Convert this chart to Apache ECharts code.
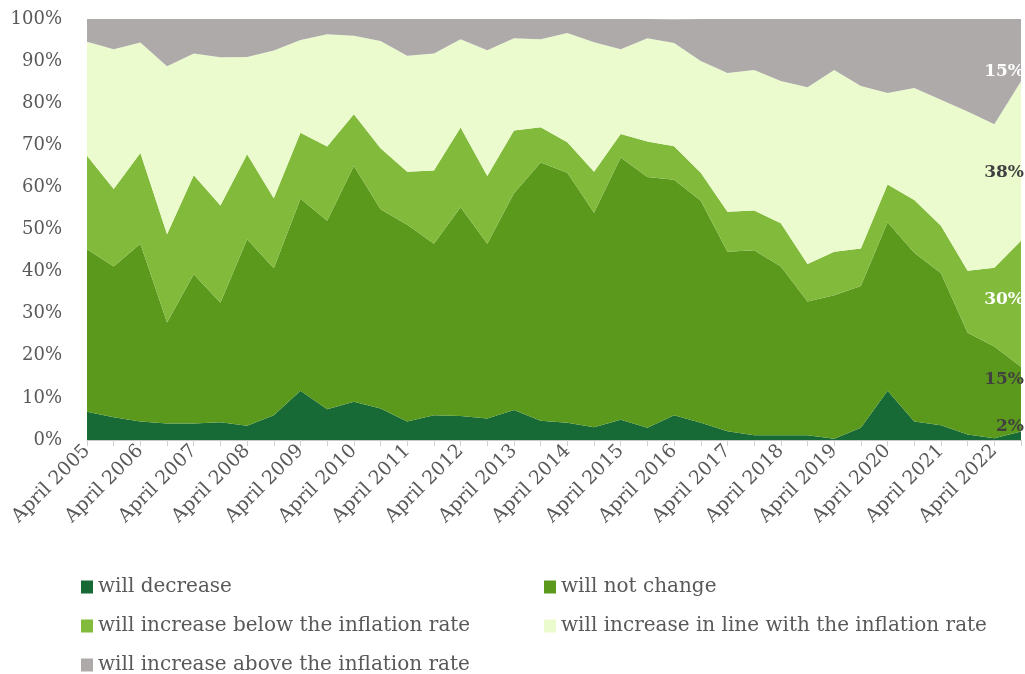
<!DOCTYPE html>
<html>
<head>
<meta charset="utf-8">
<script src="https://cdn.jsdelivr.net/npm/echarts@6/dist/echarts.min.js"></script>
<style>
html,body{margin:0;padding:0;background:#fff;}
#chart{width:1025px;height:674px;}
</style>
</head>
<body>
<div id="chart"></div>
<script>
const categories = [
  "April 2005","October 2005","April 2006","October 2006","April 2007","October 2007",
  "April 2008","October 2008","April 2009","October 2009","April 2010","October 2010",
  "April 2011","October 2011","April 2012","October 2012","April 2013","October 2013",
  "April 2014","October 2014","April 2015","October 2015","April 2016","October 2016",
  "April 2017","October 2017","April 2018","October 2018","April 2019","October 2019",
  "April 2020","October 2020","April 2021","October 2021","April 2022","October 2022"
];
const willDecrease = [6.7,5.4,4.4,3.9,3.9,4.2,3.4,5.9,11.7,7.3,9.1,7.5,4.4,5.9,5.7,5.1,7.1,4.6,4.1,3.0,4.8,2.9,5.9,4.1,2.1,1.1,1.1,1.1,0.3,2.9,11.7,4.4,3.5,1.3,0.4,2.0];
const willNotChange = [38.6,35.8,42.2,24.0,35.5,28.4,44.3,34.9,45.6,44.8,56.0,47.3,46.7,40.7,49.6,41.5,51.5,61.3,59.4,51.0,62.3,59.6,55.9,52.7,42.6,44.0,40.1,31.8,34.1,33.7,40.0,40.1,36.1,24.2,21.8,15.4];
const increaseBelow = [22.2,18.4,21.6,21.0,23.5,23.1,20.2,16.6,15.7,17.6,12.3,14.5,12.6,17.4,18.9,16.1,14.9,8.4,7.2,9.7,5.6,8.4,8.0,6.7,9.5,9.4,10.3,8.9,10.3,8.9,9.0,12.5,11.3,14.7,18.7,29.9];
const increaseInLine = [27.1,33.2,26.2,39.9,28.9,35.2,23.1,35.1,22.0,26.7,18.6,25.5,27.6,27.8,21.0,29.9,21.9,20.9,26.0,30.8,20.1,24.5,24.5,26.5,33.0,33.4,33.8,42.0,43.2,38.6,21.7,26.6,29.9,37.8,34.1,37.9];
const increaseAbove = [5.4,7.2,5.6,11.2,8.2,9.1,9.0,7.5,5.0,3.6,4.0,5.2,8.7,8.2,4.8,7.4,4.6,4.8,3.3,5.5,7.2,4.6,5.6,10.0,12.8,12.1,14.7,16.2,12.1,15.9,17.6,16.4,19.2,22.0,25.0,14.8];
const seriesNames = [
  "will decrease","will not change","will increase below the inflation rate",
  "will increase in line with the inflation rate","will increase above the inflation rate"
];
const yTicks = [0,10,20,30,40,50,60,70,80,90,100];

const seriesData = [willDecrease, willNotChange, increaseBelow, increaseInLine, increaseAbove];
const colors = ['#176A36','#5B991D','#82BA3C','#EBFBCE','#AEAAA9'];
const labelColors = ['#404040','#404040','#ffffff','#404040','#ffffff'];
const labelDy = [-5, 13, 59, 91, 53];
const FONT = '"DejaVu Serif", "Liberation Serif", serif';

const series = seriesData.map((arr, si) => ({
  name: seriesNames[si],
  type: 'line',
  stack: 'total',
  symbol: 'none',
  showSymbol: false,
  lineStyle: {width: 0},
  areaStyle: {color: colors[si], opacity: 1},
  itemStyle: {color: colors[si]},
  emphasis: {disabled: true},
  z: 2,
  endLabel: {
    show: true,
    distance: 0,
    align: 'right',
    verticalAlign: 'middle',
    offset: [3, labelDy[si]],
    formatter: (p) => Math.round(arr[arr.length - 1]) + '%',
    color: labelColors[si],
    fontFamily: FONT,
    fontWeight: 'bold',
    fontSize: 17
  },
  data: arr
}));

const legendText = {fontFamily: FONT, fontSize: 20, lineHeight: 20, color: '#595959'};
const chart = echarts.init(document.getElementById('chart'), null, {renderer: 'canvas'});
chart.setOption({
  backgroundColor: '#ffffff',
  animation: false,
  color: colors,
  grid: {left: 87, right: 4, top: 19, bottom: 234, containLabel: false},
  xAxis: {
    type: 'category',
    data: categories,
    boundaryGap: false,
    axisLine: {show: true, lineStyle: {color: '#C8C8C8', width: 1}},
    axisTick: {show: true, interval: 0, length: 6, lineStyle: {color: '#D0D0D0'}},
    axisLabel: {
      interval: 1, rotate: 45, margin: 8,
      fontFamily: FONT, fontSize: 19, color: '#595959'
    },
    splitLine: {show: false}
  },
  yAxis: {
    type: 'value',
    min: yTicks[0], max: yTicks[yTicks.length - 1], interval: 10,
    axisLine: {show: false},
    axisTick: {show: false},
    axisLabel: {
      formatter: '{value}%', margin: 25,
      fontFamily: FONT, fontSize: 18, color: '#595959'
    },
    splitLine: {show: true, lineStyle: {color: '#E0E0E0', width: 1}}
  },
  legend: [
    {
      data: [seriesNames[0], seriesNames[2], seriesNames[4]],
      orient: 'vertical', left: 76, top: 572, height: 120,
      itemWidth: 12, itemHeight: 13, itemGap: 19,
      icon: 'rect',
      textStyle: legendText,
      selectedMode: false
    },
    {
      data: [seriesNames[1], seriesNames[3]],
      orient: 'vertical', left: 539, top: 572, height: 120,
      itemWidth: 12, itemHeight: 13, itemGap: 19,
      icon: 'rect',
      textStyle: legendText,
      selectedMode: false
    }
  ],
  series: series
});
</script>
</body>
</html>
